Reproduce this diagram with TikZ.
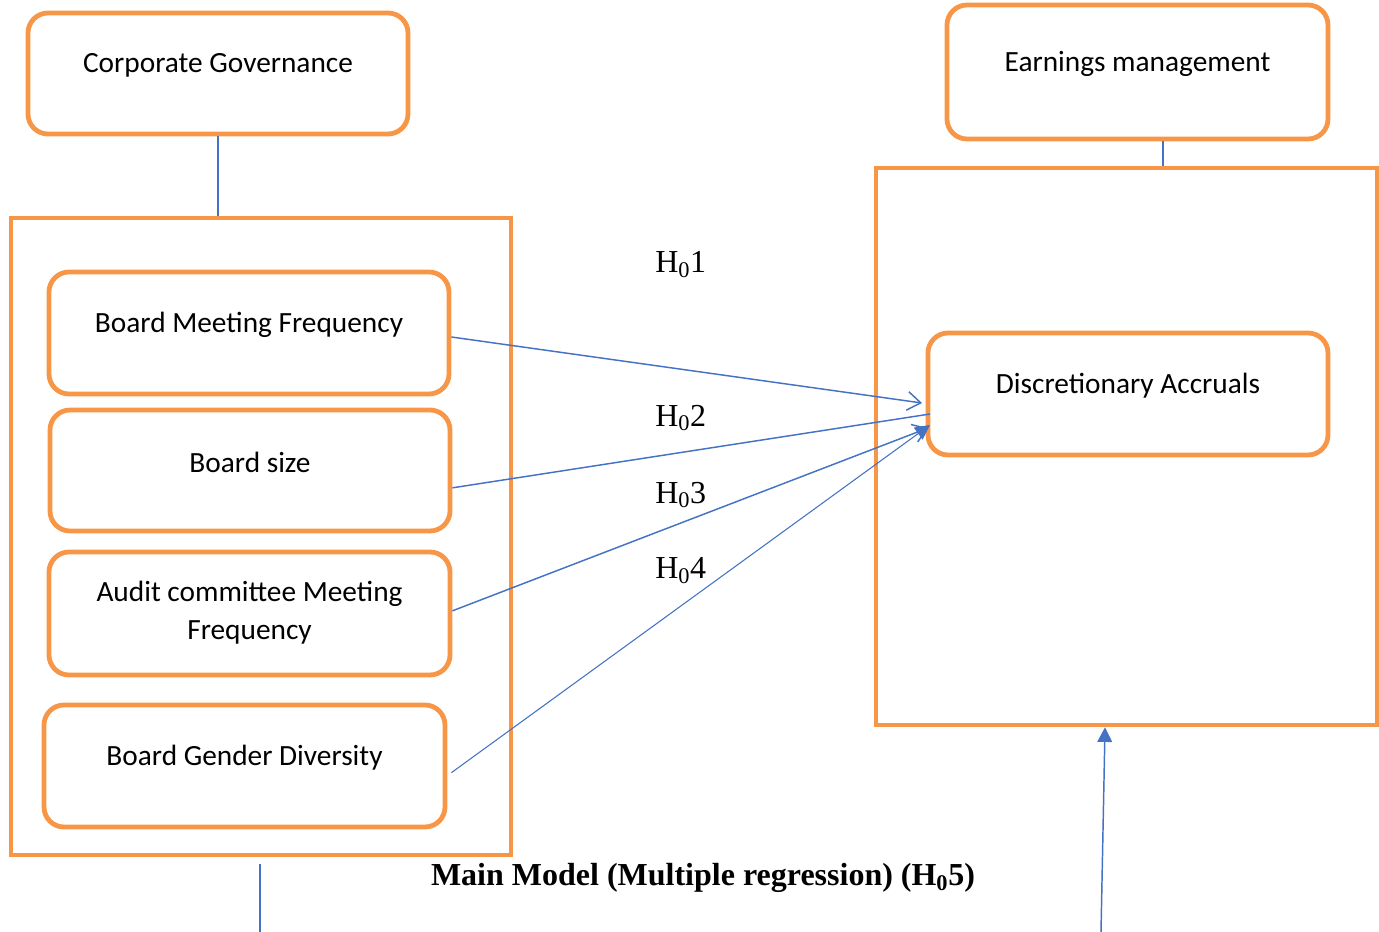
\documentclass[tikz,border=0pt]{standalone}
\usepackage{fontspec}
\setmainfont{Liberation Serif}
\newfontfamily\boxfont{Carlito}
\usetikzlibrary{arrows.meta}
\definecolor{orng}{HTML}{F79646}
\definecolor{blu}{HTML}{4472C4}
\begin{document}
\begin{tikzpicture}[x=0.75pt,y=-0.75pt,
  rbox/.style={draw=orng, line width=3.6pt, rounded corners=15pt, inner sep=0pt},
  sbox/.style={draw=orng, line width=3.4pt, inner sep=0pt},
  lbl/.style={font=\boxfont\fontsize{22}{28.5}\selectfont, yshift=6pt, align=center},
  conn/.style={draw=blu, line width=1.1pt},
  hlab/.style={font=\fontsize{24}{28}\selectfont, anchor=west, inner sep=0pt}]
\useasboundingbox (0,0) rectangle (1379,932);
% big frames
\node[sbox, minimum width=375pt, minimum height=477.75pt] (lbig) at (261,536.5) {};
\node[sbox, minimum width=375.75pt, minimum height=417.75pt] (rbig) at (1126.5,446.5) {};
% header boxes
\node[rbox, minimum width=285pt, minimum height=90.75pt, label={[lbl]center:Corporate Governance}] (cg) at (218,73.5) {};
\node[rbox, minimum width=285.75pt, minimum height=100.5pt, label={[lbl]center:Earnings management}] (em) at (1137.5,72) {};
% variable boxes
\node[rbox, minimum width=300pt, minimum height=91.5pt, label={[lbl]center:Board Meeting Frequency}] (bmf) at (249,333) {};
\node[rbox, minimum width=300pt, minimum height=90.75pt, label={[lbl]center:Board size}] (bs) at (250,470.5) {};
\node[rbox, minimum width=300.75pt, minimum height=92.25pt, label={[lbl,yshift=-5.6pt]center:Audit committee Meeting\\Frequency}] (acm) at (249.5,613.5) {};
\node[rbox, minimum width=300.75pt, minimum height=91.5pt, label={[lbl]center:Board Gender Diversity}] (bgd) at (244.5,766) {};
\node[rbox, minimum width=300pt, minimum height=91.5pt, label={[lbl]center:Discretionary Accruals}] (da) at (1128,394) {};
% connectors to frames
\draw[conn] (cg.south) -- (cg.south |- lbig.north);
\draw[conn] ([xshift=19.1pt]em.south) -- ([xshift=19.1pt]em.south |- rbig.north);
% target points
\coordinate (t1) at (922,403);
\coordinate (t2) at (930,414);
\coordinate (t3) at (928,428);
\coordinate (t4) at (930,425);
\draw[conn, -{Straight Barb[length=10pt,width=14pt]}] ([yshift=-3pt]bmf.east) -- (t1);
\draw[conn] ([yshift=-13pt]bs.east) -- (t2);
\draw[conn, -{Straight Barb[length=10pt,width=14pt]}] ([yshift=2pt]acm.east) -- (t3);
\draw[draw=blu, line width=0.8pt, -{Triangle[length=11pt,width=11pt]}] ([xshift=3pt,yshift=-5pt]bgd.east) -- (t4);
% H labels
\node[hlab] (h1) at (655,265) {H\textsubscript{0}1};
\node[hlab] (h2) at (655,418) {H\textsubscript{0}2};
\node[hlab] (h3) at (655,495) {H\textsubscript{0}3};
\node[hlab] (h4) at (655,571) {H\textsubscript{0}4};
% bottom
\node[font=\bfseries\fontsize{24}{28}\selectfont, inner sep=0pt] (mm) at (703,878) {Main Model (Multiple regression) (H\textsubscript{0}5)};
\coordinate (b1) at (260,932);
\coordinate (b2) at (1101,932);
\draw[conn] ([xshift=-0.75pt,yshift=-5pt]lbig.south) -- (b1);
\draw[conn, -{Triangle[length=11pt,width=11pt]}] (b2) -- ([xshift=-16.1pt]rbig.south);
\end{tikzpicture}
\end{document}
